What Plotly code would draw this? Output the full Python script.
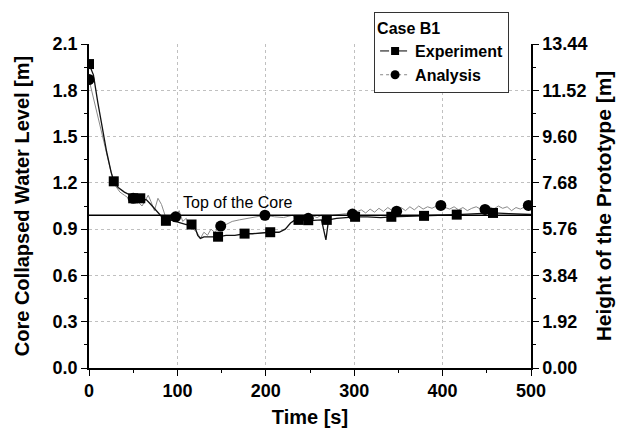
import plotly.graph_objects as go

# ---- data ----
exp_t = [0, 5, 10, 15, 20, 25, 28, 33, 40, 47, 52, 58, 65, 70, 76, 82, 87, 92, 98, 104, 110, 116,
         120, 123, 126, 130, 136, 146, 155, 165, 176, 185, 195, 205, 215, 222, 228, 233, 237, 245,
         250, 258, 263, 268, 271, 280, 290, 301, 315, 330, 342, 360, 379, 395, 416, 435, 457, 475, 500]
exp_y = [1.97, 1.90, 1.72, 1.55, 1.40, 1.27, 1.21, 1.17, 1.14, 1.12, 1.10, 1.10, 1.09, 1.06, 1.02, 0.98,
         0.95, 0.96, 0.95, 0.94, 0.93, 0.93, 0.91, 0.86, 0.84, 0.85, 0.85, 0.85, 0.86, 0.86, 0.87, 0.87,
         0.875, 0.88, 0.88, 0.90, 0.94, 0.96, 0.96, 0.96, 0.955, 0.96, 0.96, 0.83, 0.96, 0.97, 0.975,
         0.98, 0.98, 0.975, 0.98, 0.985, 0.986, 0.99, 0.994, 1.0, 1.005, 1.0, 0.995]

ana_t = [0, 5, 10, 15, 20, 25, 30, 35, 40, 45, 50, 55, 60, 63, 67, 70, 74, 78, 82, 86, 90, 95, 98,
         102, 106, 110, 114, 118, 122, 126, 130, 134, 138, 142, 149, 155, 162, 170, 180, 190, 199,
         210, 220, 230, 235, 240, 248, 252, 258, 263, 270, 276, 282, 290, 298, 303, 308, 313, 318,
         323, 328, 333, 338, 343, 348, 353, 358, 363, 368, 373, 378, 383, 388, 393, 398, 403, 408,
         413, 418, 423, 428, 433, 438, 443, 448, 453, 458, 463, 468, 473, 478, 483, 488, 493, 497, 500]
ana_y = [1.87, 1.75, 1.62, 1.50, 1.38, 1.27, 1.18, 1.14, 1.12, 1.10, 1.10, 1.08, 1.05, 1.08, 1.12,
         1.08, 1.02, 1.10, 1.06, 0.99, 0.96, 1.00, 0.98, 1.02, 0.95, 0.97, 0.92, 0.90, 0.88, 0.84,
         0.88, 0.86, 0.90, 0.88, 0.92, 0.93, 0.95, 0.96, 0.97, 0.98, 0.99, 0.98, 0.975, 0.99, 0.97,
         0.985, 0.97, 0.99, 0.975, 0.99, 0.98, 0.99, 0.995, 1.0, 1.0, 1.01, 1.025, 1.005, 1.03, 1.01,
         1.035, 1.015, 1.04, 1.02, 1.016, 1.04, 1.02, 1.045, 1.025, 1.05, 1.03, 1.045, 1.035, 1.05,
         1.054, 1.04, 1.03, 1.045, 1.025, 1.04, 1.02, 1.035, 1.045, 1.03, 1.028, 1.045, 1.03, 1.05,
         1.035, 1.045, 1.02, 1.04, 1.03, 1.045, 1.054, 1.05]

exp_mark_t = [0, 28, 50, 58, 87, 116, 146, 176, 205, 237, 248, 269, 301, 342, 379, 416, 457]
exp_mark_y = [1.97, 1.21, 1.10, 1.10, 0.954, 0.93, 0.851, 0.871, 0.88, 0.96, 0.958, 0.96, 0.98,
              0.98, 0.986, 0.994, 1.005]

ana_mark_t = [0, 50, 98, 149, 199, 248, 298, 348, 398, 448, 497]
ana_mark_y = [1.87, 1.10, 0.98, 0.92, 0.99, 0.97, 0.998, 1.016, 1.054, 1.028, 1.054]

top_of_core = 0.99
top_label_t = 168
top_label_y = 1.07

left_ticks = [0.0, 0.3, 0.6, 0.9, 1.2, 1.5, 1.8, 2.1]
right_ticks = [0.00, 1.92, 3.84, 5.76, 7.68, 9.60, 11.52, 13.44]
x_ticks = [0, 100, 200, 300, 400, 500]

FONT = "Liberation Sans, Arial, sans-serif"

fig = go.Figure()

fig.add_trace(go.Scatter(x=ana_t, y=ana_y, mode="lines",
                         line=dict(color="#8a8a8a", width=1), showlegend=False, hoverinfo="skip"))
fig.add_trace(go.Scatter(x=exp_t, y=exp_y, mode="lines",
                         line=dict(color="#111111", width=1.3), showlegend=False, hoverinfo="skip"))

fig.add_hline(y=top_of_core, line=dict(color="black", width=1.6))

fig.add_trace(go.Scatter(x=exp_mark_t, y=exp_mark_y, mode="markers",
                         marker=dict(symbol="square", size=10, color="black"), showlegend=False))
fig.add_trace(go.Scatter(x=ana_mark_t, y=ana_mark_y, mode="markers",
                         marker=dict(symbol="circle", size=11, color="black"), showlegend=False))

# legend entries
fig.add_trace(go.Scatter(x=[None], y=[None], mode="lines+markers", name="Experiment",
                         line=dict(color="black", width=1, dash="dash"),
                         marker=dict(symbol="square", size=8, color="black")))
fig.add_trace(go.Scatter(x=[None], y=[None], mode="lines+markers", name="Analysis",
                         line=dict(color="#888888", width=1, dash="dot"),
                         marker=dict(symbol="circle", size=9, color="black")))

fig.add_annotation(x=top_label_t, y=top_label_y, text="Top of the Core", showarrow=False,
                   font=dict(family=FONT, size=16, color="black"))

axis_common = dict(showline=True, linecolor="black", linewidth=1.5, ticks="outside",
                   ticklen=6, tickwidth=1.2, tickcolor="black", automargin=False,
                   tickfont=dict(family=FONT, size=18, color="black", weight="bold"),
                   zeroline=False)

fig.update_layout(
    width=617, height=434,
    margin=dict(l=89, r=86, t=40, b=66),
    paper_bgcolor="white", plot_bgcolor="white",
    font=dict(family=FONT, color="black"),
    xaxis=dict(range=[0, 500], tickvals=x_ticks,
               showgrid=True, gridcolor="#c0c0c0", griddash="dot", gridwidth=1,
               minor=dict(ticks="outside", ticklen=3, tickcolor="black", dtick=50, showgrid=False),
               title=dict(text="Time [s]", font=dict(family=FONT, size=20, weight="bold"), standoff=10),
               **axis_common),
    yaxis=dict(range=[0, 2.1], tickvals=left_ticks, tickformat=".1f",
               showgrid=True, gridcolor="#c0c0c0", griddash="dot", gridwidth=1,
               minor=dict(ticks="outside", ticklen=3, tickcolor="black", dtick=0.15, showgrid=False),
               title=dict(text="Core Collapsed Water Level [m]",
                          font=dict(family=FONT, size=20, weight="bold"), standoff=18),
               **axis_common),
    yaxis2=dict(range=[0, 13.44], tickvals=right_ticks, tickformat=".2f", overlaying="y",
                side="right", showgrid=False,
                minor=dict(ticks="outside", ticklen=3, tickcolor="black", dtick=0.96, showgrid=False),
                title=dict(text="Height of the Prototype [m]",
                           font=dict(family=FONT, size=21, weight="bold"), standoff=10),
                **axis_common),
    legend=dict(x=0.645, y=1.098, xanchor="left", yanchor="top",
                bgcolor="white", bordercolor="#333333", borderwidth=1,
                title=dict(text="Case B1", font=dict(family=FONT, size=16, weight="bold")),
                font=dict(family=FONT, size=16, color="black", weight="bold"),
                tracegroupgap=0, itemwidth=30),
)

# dummy trace to attach right axis
fig.add_trace(go.Scatter(x=[None], y=[None], yaxis="y2", showlegend=False, hoverinfo="skip"))

fig.write_html("out.html")
